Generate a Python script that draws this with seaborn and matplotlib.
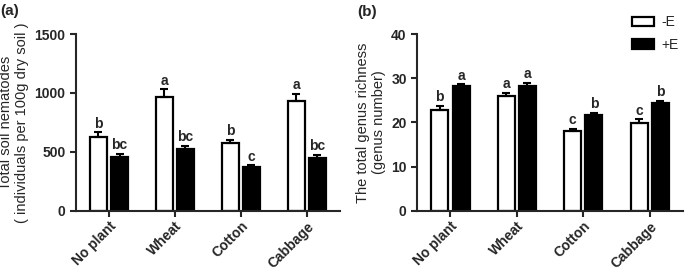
import matplotlib
matplotlib.use("Agg")
import matplotlib.pyplot as plt
from matplotlib.patches import Patch
import pandas as pd
import seaborn as sns

# data
crops = ["No plant", "Wheat", "Cotton", "Cabbage"]
treatments = ["-E", "+E"]

nematodes_minus = [630, 970, 575, 930]
nematodes_plus = [460, 525, 370, 450]
nematodes_err_minus = [35, 60, 25, 65]
nematodes_err_plus = [25, 25, 15, 25]
nematodes_letters_minus = ["b", "a", "b", "a"]
nematodes_letters_plus = ["bc", "bc", "c", "bc"]

richness_minus = [22.8, 25.9, 18.0, 19.9]
richness_plus = [28.2, 28.3, 21.7, 24.3]
richness_err_minus = [1.0, 0.8, 0.5, 0.8]
richness_err_plus = [0.4, 0.6, 0.5, 0.5]
richness_letters_minus = ["b", "a", "c", "c"]
richness_letters_plus = ["a", "a", "b", "b"]

sns.set_theme(style="ticks")
plt.rcParams["font.family"] = ["Liberation Sans", "DejaVu Sans"]
plt.rcParams["axes.linewidth"] = 1.5


def make_df(minus, plus):
    return pd.DataFrame({
        "crop": crops * 2,
        "treat": [treatments[0]] * 4 + [treatments[1]] * 4,
        "value": list(minus) + list(plus),
    })


def draw_panel(ax, df, errs, letters, ymax, yticks, pad):
    sns.barplot(data=df, x="crop", y="value", hue="treat", order=crops,
                hue_order=treatments, palette={"-E": "white", "+E": "black"},
                edgecolor="black", linewidth=1.6, width=0.64, gap=0.2,
                errorbar=None, legend=False, ax=ax)
    for cont, err, lab in zip(ax.containers, errs, letters):
        for bar, e, l in zip(cont, err, lab):
            xc = bar.get_x() + bar.get_width() / 2
            h = bar.get_height()
            ax.errorbar(xc, h, yerr=[[0], [e]], fmt="none", ecolor="black",
                        elinewidth=1.5, capsize=3, capthick=1.5)
            ax.text(xc, h + e + pad, l, ha="center", va="bottom",
                    fontsize=10, fontweight="bold")
    ax.set_xlim(-0.5, 3.5)
    ax.set_ylim(0, ymax)
    ax.set_yticks(yticks)
    ax.set_xlabel("")
    sns.despine(ax=ax)
    ax.tick_params(axis="both", width=1.5, length=4, labelsize=10)
    ax.tick_params(axis="x", pad=2)
    for t in ax.get_yticklabels():
        t.set_fontweight("bold")
    ax.set_xticks(range(len(crops)))
    ax.set_xticklabels(crops, rotation=45, ha="right", rotation_mode="anchor",
                       fontweight="bold", fontsize=10)


fig = plt.figure(figsize=(6.85, 2.70), dpi=100)
ax1 = fig.add_axes([0.111, 0.219, 0.385, 0.655])
ax2 = fig.add_axes([0.609, 0.219, 0.388, 0.655])

draw_panel(ax1, make_df(nematodes_minus, nematodes_plus),
           [nematodes_err_minus, nematodes_err_plus],
           [nematodes_letters_minus, nematodes_letters_plus],
           1500, [0, 500, 1000, 1500], 15)
ax1.set_ylabel("Total soil nematodes\n( individuals per 100g dry soil )",
               fontsize=10.5, linespacing=1.15)

draw_panel(ax2, make_df(richness_minus, richness_plus),
           [richness_err_minus, richness_err_plus],
           [richness_letters_minus, richness_letters_plus],
           40, [0, 10, 20, 30, 40], 0.4)
ax2.set_ylabel("The total genus richness\n(genus number)", fontsize=10.5,
               linespacing=1.15)

handles = [Patch(facecolor="white", edgecolor="black", linewidth=1.6),
           Patch(facecolor="black", edgecolor="black", linewidth=1.6)]
ax2.legend(handles, treatments, loc="upper right", bbox_to_anchor=(1.02, 1.16),
           frameon=False, fontsize=10, handlelength=1.6, handleheight=0.7,
           handletextpad=0.5, labelspacing=0.6, borderpad=0.2)

fig.text(0.0, 0.985, "(a)", fontsize=11, fontweight="bold", va="top")
fig.text(0.521, 0.98, "(b)", fontsize=11, fontweight="bold", va="top")

fig.savefig("out.png", dpi=100)
